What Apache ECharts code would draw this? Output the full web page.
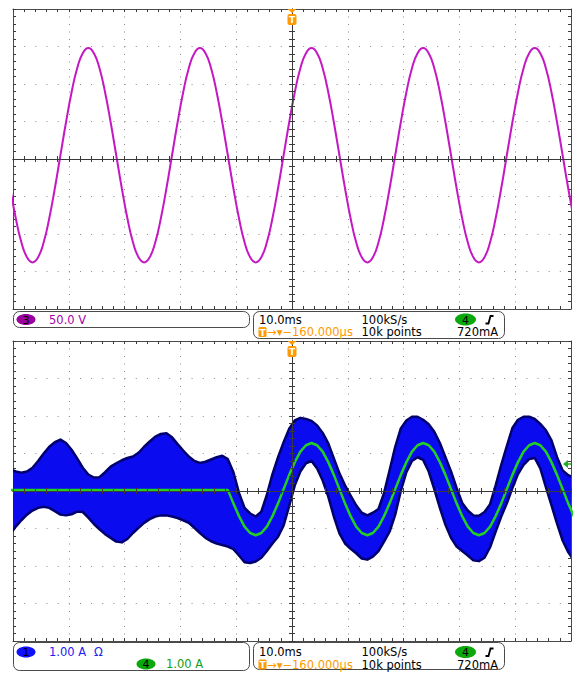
<!DOCTYPE html>
<html><head><meta charset="utf-8">
<script src="https://cdn.jsdelivr.net/npm/echarts@6/dist/echarts.min.js"></script>
<style>html,body{margin:0;padding:0;background:#fff}#c{width:576px;height:673px}</style>
</head><body><div id="c"></div>
<script>
// ---- sample times (ms); the screen shows -50 .. +50 ms, samples just beyond are clipped ----
const timeMs = [-50.5,-49.5,-48.5,-47.5,-46.5,-45.5,-44.5,-43.5,-42.5,-41.5,-40.5,-39.5,-38.5,-37.5,-36.5,-35.5,-34.5,-33.5,-32.5,-31.5,
-30.5,-29.5,-28.5,-27.5,-26.5,-25.5,-24.5,-23.5,-22.5,-21.5,-20.5,-19.5,-18.5,-17.5,-16.5,-15.5,-14.5,-13.5,-12.5,-11.5,
-10.5,-9.5,-8.5,-7.5,-6.5,-5.5,-4.5,-3.5,-2.5,-1.5,-0.5,0.5,1.5,2.5,3.5,4.5,5.5,6.5,7.5,8.5,
9.5,10.5,11.5,12.5,13.5,14.5,15.5,16.5,17.5,18.5,19.5,20.5,21.5,22.5,23.5,24.5,25.5,26.5,27.5,28.5,
29.5,30.5,31.5,32.5,33.5,34.5,35.5,36.5,37.5,38.5,39.5,40.5,41.5,42.5,43.5,44.5,45.5,46.5,47.5,48.5,49.5,50.5];

// ---- channel 3 voltage (V), upper screen ----
const ch3Volts = [-39,-79,-111,-131,-138,-131,-111,-79,-39,5,49,89,121,141,148,141,121,89,49,5,
-39,-79,-111,-131,-138,-131,-111,-79,-39,5,49,89,121,141,148,141,121,89,49,5,
-39,-79,-111,-131,-138,-131,-111,-79,-39,5,49,89,121,141,148,141,121,89,49,5,
-39,-79,-111,-131,-138,-131,-111,-79,-39,5,49,89,121,141,148,141,121,89,49,5,
-39,-79,-111,-131,-138,-131,-111,-79,-39,5,49,89,121,141,148,141,121,89,49,5,
-39,-79];

// ---- channel 1 current (A): upper / lower edge of the noisy band ----
const ch1Upper = [0.58,0.52,0.49,0.52,0.62,0.80,1.00,1.18,1.30,1.37,1.28,1.10,0.87,0.62,0.44,0.36,0.37,0.50,0.65,0.74,
0.82,0.88,0.92,1.02,1.18,1.32,1.45,1.52,1.54,1.43,1.25,1.08,0.92,0.80,0.75,0.78,0.84,0.90,0.94,0.85,
0.50,-0.05,-0.45,-0.60,-0.68,-0.55,-0.10,0.45,0.90,1.30,1.66,1.88,1.95,1.92,1.87,1.75,1.55,1.27,0.87,0.47,
0.15,-0.12,-0.38,-0.58,-0.65,-0.58,-0.48,-0.05,0.56,1.18,1.67,1.88,1.98,1.98,1.90,1.78,1.58,1.28,0.90,0.52,
0.08,-0.32,-0.52,-0.65,-0.66,-0.56,-0.35,0.15,0.70,1.20,1.68,1.90,1.98,1.98,1.92,1.79,1.62,1.35,0.90,0.55,0.42,0.36];
const ch1Lower = [-1.15,-0.95,-0.78,-0.63,-0.52,-0.45,-0.42,-0.45,-0.54,-0.63,-0.65,-0.62,-0.55,-0.56,-0.71,-0.88,-1.02,-1.15,-1.25,-1.35,
-1.37,-1.28,-1.12,-0.98,-0.85,-0.75,-0.68,-0.65,-0.65,-0.68,-0.72,-0.78,-0.85,-0.98,-1.12,-1.25,-1.34,-1.40,-1.44,-1.48,
-1.55,-1.72,-1.90,-1.92,-1.88,-1.78,-1.60,-1.40,-1.22,-0.92,-0.40,0.15,0.52,0.74,0.80,0.60,0.28,-0.15,-0.68,-1.13,
-1.40,-1.54,-1.66,-1.80,-1.83,-1.75,-1.60,-1.35,-1.08,-0.63,0.00,0.50,0.80,0.90,0.83,0.52,0.05,-0.45,-0.90,-1.25,
-1.48,-1.60,-1.72,-1.85,-1.87,-1.78,-1.50,-1.08,-0.68,-0.33,0.08,0.45,0.70,0.85,0.88,0.60,0.10,-0.38,-0.87,-1.32,-1.63,-1.85];

// ---- channel 4 current (A) ----
const ch4Amps = [0.03,0.03,0.03,0.03,0.03,0.03,0.03,0.03,0.03,0.03,0.03,0.03,0.03,0.03,0.03,0.03,0.03,0.03,0.03,0.03,
0.03,0.03,0.03,0.03,0.03,0.03,0.03,0.03,0.03,0.03,0.03,0.03,0.03,0.03,0.03,0.03,0.03,0.03,0.03,0.03,
-0.33,-0.67,-0.95,-1.12,-1.18,-1.12,-0.95,-0.67,-0.33,0.05,0.43,0.77,1.05,1.22,1.28,1.22,1.05,0.77,0.43,0.05,
-0.33,-0.67,-0.95,-1.12,-1.18,-1.12,-0.95,-0.67,-0.33,0.05,0.43,0.77,1.05,1.22,1.28,1.22,1.05,0.77,0.43,0.05,
-0.33,-0.67,-0.95,-1.12,-1.18,-1.12,-0.95,-0.67,-0.33,0.05,0.43,0.77,1.05,1.22,1.28,1.22,1.05,0.77,0.43,0.05,
-0.33,-0.67];

// ---- scales ----
const timeRange = [-50, 50], timeDiv = 10;
const voltRange = [-200, 200], voltDiv = 50;
const ampRange = [-4, 4], ampDiv = 1;
const triggerTimeMs = 0;
const triggerLevelA = 0.72;

const FRAME = '#4a4a4a', CROSS = '#3a3a3a', GRIDC = '#8a8a8a';
const FONT = '"DejaVu Sans", sans-serif';

function xAxes(g) {
  const base = {gridIndex: g, type: 'value', min: timeRange[0], max: timeRange[1], interval: timeDiv,
    axisLabel: {show: false}, splitLine: {show: false}};
  const tk = (inside) => ({axisTick: {show: true, inside: inside, length: 3, lineStyle: {color: CROSS}},
    minorTick: {show: true, splitNumber: 5, length: 3, lineStyle: {color: CROSS}}});
  return [
    Object.assign({}, base, tk(false), {position: 'bottom', z: 10, axisLine: {show: true, onZero: true, lineStyle: {color: CROSS, width: 1}}}),
    Object.assign({}, base, tk(false), {position: 'top', z: 10, axisLine: {show: true, onZero: true, lineStyle: {color: CROSS, width: 1}}}),
    Object.assign({}, base, tk(true), {position: 'bottom', z: 1, axisLine: {show: true, onZero: false, lineStyle: {color: FRAME, width: 1}},
      splitLine: {show: true, lineStyle: {color: GRIDC, width: 1, type: [1, 6.5]}}}),
    Object.assign({}, base, tk(true), {position: 'top', z: 1, axisLine: {show: true, onZero: false, lineStyle: {color: FRAME, width: 1}}})
  ];
}
function yAxes(g, range, div) {
  const base = {gridIndex: g, type: 'value', min: range[0], max: range[1], interval: div,
    axisLabel: {show: false}, splitLine: {show: false}};
  const tk = (inside) => ({axisTick: {show: true, inside: inside, length: 3, lineStyle: {color: CROSS}},
    minorTick: {show: true, splitNumber: 5, length: 3, lineStyle: {color: CROSS}}});
  return [
    Object.assign({}, base, tk(false), {position: 'left', z: 10, axisLine: {show: true, onZero: true, lineStyle: {color: CROSS, width: 1}}}),
    Object.assign({}, base, tk(false), {position: 'right', z: 10, axisLine: {show: true, onZero: true, lineStyle: {color: CROSS, width: 1}}}),
    Object.assign({}, base, tk(true), {position: 'left', z: 1, axisLine: {show: true, onZero: false, lineStyle: {color: FRAME, width: 1}},
      splitLine: {show: true, lineStyle: {color: GRIDC, width: 1, type: [1, 10.16]}}}),
    Object.assign({}, base, tk(true), {position: 'right', z: 1, axisLine: {show: true, onZero: false, lineStyle: {color: FRAME, width: 1}}})
  ];
}

const pair = (arr) => timeMs.map((t, i) => [t, arr[i]]);

const chart = echarts.init(document.getElementById('c'), null, {renderer: 'svg', width: 576, height: 673});
chart.setOption({
  animation: false,
  backgroundColor: '#ffffff',
  grid: [
    {left: 13, top: 9, width: 558, height: 300},
    {left: 13, top: 341, width: 558, height: 300}
  ],
  xAxis: xAxes(0).concat(xAxes(1)),
  yAxis: yAxes(0, voltRange, voltDiv).concat(yAxes(1, ampRange, ampDiv)),
  series: [
    {type: 'line', name: 'CH3', xAxisIndex: 0, yAxisIndex: 0, data: pair(ch3Volts), symbol: 'none', smooth: 0.5, clip: true,
      lineStyle: {color: '#c418c4', width: 2}, z: 5},
    {type: 'custom', name: 'CH1', xAxisIndex: 4, yAxisIndex: 4, clip: true, z: 3,
      data: [[timeMs[0], ch1Upper[0]]],
      renderItem: function (params, api) {
        const up = timeMs.map((t, i) => api.coord([t, ch1Upper[i]]));
        const lo = timeMs.map((t, i) => api.coord([t, ch1Lower[i]])).reverse();
        return {type: 'polygon', shape: {points: up.concat(lo)},
          style: {fill: '#0b0bef', stroke: '#00006e', lineWidth: 2.5, lineJoin: 'round'}};
      }},
    {type: 'line', name: 'CH4', xAxisIndex: 4, yAxisIndex: 4, data: pair(ch4Amps), symbol: 'none', clip: true,
      lineStyle: {color: '#22d022', width: 2.5}, z: 6}
  ]
});

// ---- readout boxes and markers ----
function txt(x, y, s, fill, size) {
  return {type: 'text', x: x, y: y, z: 50,
    style: {text: s, fill: fill, font: (size || 11.5) + 'px ' + FONT, align: 'left', verticalAlign: 'middle'}};
}
function box(x, y, w, h) {
  return {type: 'rect', z: 40, shape: {x: x, y: y, width: w, height: h, r: 6}, style: {fill: '#fff', stroke: '#4a4a4a', lineWidth: 1}};
}
function badge(cx, cy, rx, ry, color, label) {
  return [
    {type: 'ellipse', z: 45, shape: {cx: cx, cy: cy, rx: rx, ry: ry}, style: {fill: color}},
    {type: 'text', z: 50, x: cx, y: cy + 0.5, style: {text: label, fill: '#000', font: '11px ' + FONT, align: 'center', verticalAlign: 'middle'}}
  ];
}
function timeBox(y0, r1, r2) {
  return [box(253.5, y0, 251, 27)].concat([
    txt(259, r1, '10.0ms', '#000'),
    txt(361.5, r1, '100kS/s', '#000'),
    txt(361.5, r2, '10k points', '#000'),
    txt(457, r2, '720mA', '#000'),
    {type: 'rect', z: 45, shape: {x: 258.5, y: r2 - 5, width: 8, height: 10, r: 1.5}, style: {fill: '#ff9a00'}},
    {type: 'text', z: 50, x: 262.5, y: r2 + 0.5, style: {text: 'T', fill: '#fff', font: 'bold 9px ' + FONT, align: 'center', verticalAlign: 'middle'}},
    txt(267, r2, '→▾−160.000µs', '#ff9a00'),
    {type: 'polyline', z: 50, shape: {points: [[485.5, r1 + 4], [488.5, r1 + 4], [490.5, r1 - 3.5], [493.5, r1 - 3.5]]},
      style: {stroke: '#000', lineWidth: 1.8, fill: null}}
  ]).concat(badge(465.5, r1, 10.5, 6, '#0aa80a', '4'));
}
function trigT(x, yTop) {
  return [
    {type: 'polygon', z: 60, shape: {points: [[x - 4.5, yTop], [x + 4.5, yTop], [x, yTop + 4]]}, style: {fill: '#ff9a00'}},
    {type: 'rect', z: 60, shape: {x: x - 4.5, y: yTop + 5, width: 9, height: 11, r: 2}, style: {fill: '#ff9a00'}},
    {type: 'text', z: 61, x: x, y: yTop + 10.8, style: {text: 'T', fill: '#fff', font: 'bold 9px ' + FONT, align: 'center', verticalAlign: 'middle'}}
  ];
}

const trigX0 = chart.convertToPixel({xAxisIndex: 0}, triggerTimeMs);
const trigX1 = chart.convertToPixel({xAxisIndex: 4}, triggerTimeMs);
const top0 = chart.convertToPixel({yAxisIndex: 0}, voltRange[1]);
const top1 = chart.convertToPixel({yAxisIndex: 4}, ampRange[1]);
const right1 = chart.convertToPixel({xAxisIndex: 4}, timeRange[1]);
const lvlY = chart.convertToPixel({yAxisIndex: 4}, triggerLevelA);

let g = [];
g.push(box(13.5, 311.5, 236, 16));
g = g.concat(badge(26, 319.5, 9.5, 5.5, '#9c009c', '3'));
g.push(txt(49, 319.5, '50.0 V', '#a800a8'));
g = g.concat(timeBox(311.5, 319.5, 332));
g.push(box(13.5, 642.5, 236, 28));
g = g.concat(badge(26, 652, 9.5, 5.5, '#1010ff', '1'));
g.push(txt(49, 652, '1.00 A', '#2020f0'));
g.push(txt(94, 652, 'Ω', '#2020f0'));
g = g.concat(badge(146, 664, 9.5, 5.5, '#0aa80a', '4'));
g.push(txt(166, 664, '1.00 A', '#10a010'));
g = g.concat(timeBox(642.5, 652, 664.5));
g = g.concat(trigT(trigX0, top0), trigT(trigX1, top1));
g.push({type: 'polygon', z: 60, shape: {points: [[right1 - 8, lvlY], [right1 - 3, lvlY - 4], [right1 - 3, lvlY + 4]]}, style: {fill: '#22aa22'}});
g.push({type: 'line', z: 60, shape: {x1: right1 - 4, y1: lvlY, x2: right1, y2: lvlY}, style: {stroke: '#22aa22', lineWidth: 1.5}});
chart.setOption({graphic: g});
</script>
</body></html>
